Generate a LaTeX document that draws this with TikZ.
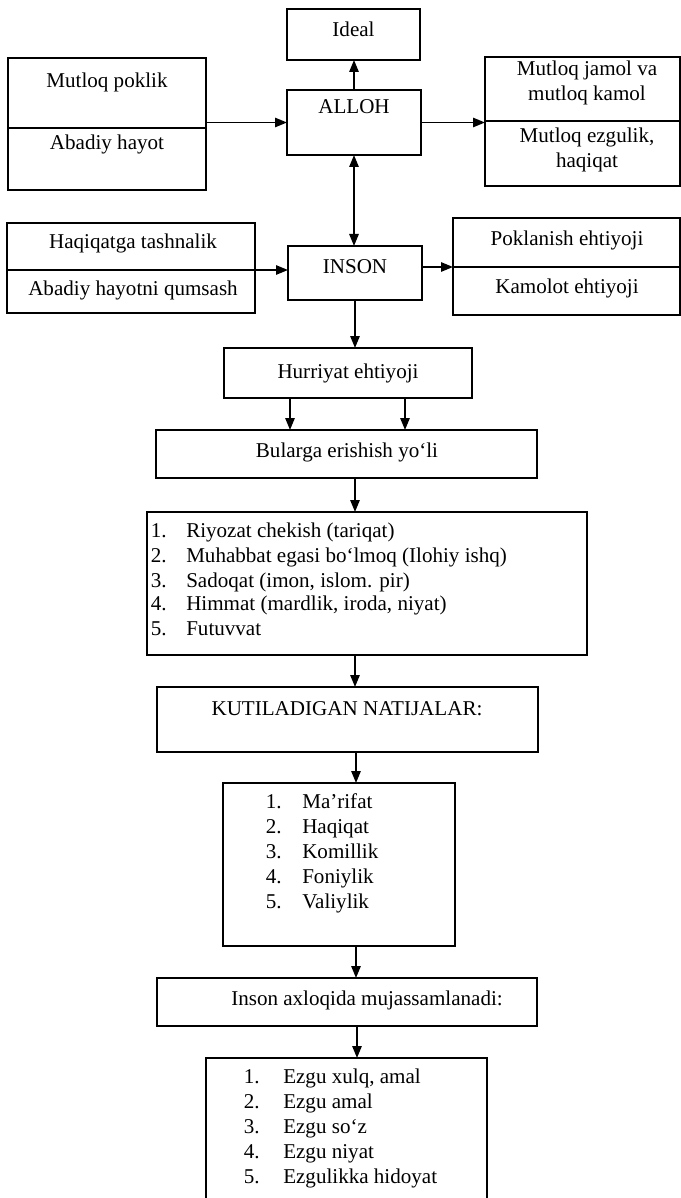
\documentclass[tikz,border=0pt]{standalone}
\usepackage{fontspec}
\setmainfont{Liberation Serif}
\usetikzlibrary{arrows.meta}
\begin{document}
\begin{tikzpicture}[x=0.75pt,y=-0.75pt,
  box/.style={draw, line width=1.35pt, inner sep=0pt, outer sep=0pt},
  sz/.style 2 args={minimum width=#1*0.75pt, minimum height=#2*0.75pt},
  txt/.style={inner sep=0pt, font=\fontsize{15.8}{18.75}\selectfont, text height=11pt, text depth=3.5pt},
  txtb/.style={inner sep=0pt, font=\fontsize{15.8}{18.75}\selectfont, align=center},
  arr/.style={line width=1.35pt, -{Triangle[length=9pt,width=7pt]}},
  darr/.style={line width=1.35pt, {Triangle[length=9pt,width=7pt]}-{Triangle[length=9pt,width=7pt]}}
]
\fill[white] (0,0) rectangle (681,1198);
\useasboundingbox (0,0) rectangle (681,1198);

% top row
\node[box,sz={133}{51}] (ideal) at (353.5,34.5) {};
\node[txt] (idealT) at (353.5,32) {Ideal};
\node[box,sz={134}{65}] (alloh) at (354,122.5) {};
\node[txt] (allohT) at (354,109) {ALLOH};

\node[box,sz={198}{70}] (l1a) at (107,93) {};
\node[box,sz={198}{62}] (l1b) at (107,159) {};
\node[txt] (l1aT) at (107,83) {Mutloq poklik};
\node[txt] (l1bT) at (107,145) {Abadiy hayot};

\node[box,sz={195}{64}] (r1a) at (582.5,89) {};
\node[box,sz={195}{65}] (r1b) at (582.5,153.5) {};
\node[txtb] (r1aT) at (587,83) {Mutloq jamol va\\mutloq kamol};
\node[txtb] (r1bT) at (587,149.5) {Mutloq ezgulik,\\haqiqat};

% second row
\node[box,sz={248}{47}] (l2a) at (131,246.5) {};
\node[box,sz={248}{43}] (l2b) at (131,291.5) {};
\node[txt] (l2aT) at (133,243) {Haqiqatga tashnalik};
\node[txt] (l2bT) at (133,290) {Abadiy hayotni qumsash};

\node[box,sz={134}{54}] (inson) at (355,273) {};
\node[txt] (insonT) at (355,268) {INSON};

\node[box,sz={227}{49}] (r2a) at (566.5,242.5) {};
\node[box,sz={227}{48}] (r2b) at (566.5,291) {};
\node[txt] (r2aT) at (567,240) {Poklanish ehtiyoji};
\node[txt] (r2bT) at (567,288) {Kamolot ehtiyoji};

% chain
\node[box,sz={248}{50}] (hurr) at (348,373) {};
\node[txt] (hurrT) at (348,373) {Hurriyat ehtiyoji};
\node[box,sz={381}{48}] (bul) at (346.5,454) {};
\node[txt] (bulT) at (347,452) {Bularga erishish yo‘li};
\node[box,sz={440}{143}] (list1) at (367,583.5) {};
\node[box,sz={381}{65}] (kut) at (347.5,719.5) {};
\node[txt] (kutT) at (347,710) {KUTILADIGAN NATIJALAR:};
\node[box,sz={232}{163}] (list2) at (339,864.5) {};
\node[box,sz={380}{48}] (insa) at (347,1002) {};
\node[txt] (insaT) at (367,1000) {Inson axloqida mujassamlanadi:};
\node[box,sz={281}{152}] (list3) at (346.5,1134) {};

% list contents
\foreach \n/\t/\y in {1/{Riyozat chekish (tariqat)}/532,
                      2/{Muhabbat egasi bo‘lmoq (Ilohiy ishq)}/557,
                      3/{Sadoqat (imon, islom. pir)}/582,
                      4/{Himmat (mardlik, iroda, niyat)}/605,
                      5/{Futuvvat}/630}{
  \node[txt,anchor=east] (la\n) at (167,\y) {\n.};
  \node[txt,anchor=west] (lb\n) at (186,\y) {\t};
}
\foreach \n/\t/\y in {1/{Ma’rifat}/803, 2/{Haqiqat}/828, 3/{Komillik}/853,
                      4/{Foniylik}/878, 5/{Valiylik}/903}{
  \node[txt,anchor=east] (ma\n) at (282,\y) {\n.};
  \node[txt,anchor=west] (mb\n) at (302,\y) {\t};
}
\foreach \n/\t/\y in {1/{Ezgu xulq, amal}/1078, 2/{Ezgu amal}/1103, 3/{Ezgu so‘z}/1128,
                      4/{Ezgu niyat}/1153, 5/{Ezgulikka hidoyat}/1178}{
  \node[txt,anchor=east] (na\n) at (260,\y) {\n.};
  \node[txt,anchor=west] (nb\n) at (283,\y) {\t};
}

% spine coordinates
\coordinate (sp1) at (355,0);
\coordinate (sp2) at (356,0);
\coordinate (sp3) at (357,0);

% connectors
\draw[arr] (alloh.north) -- (alloh.north |- ideal.south);
\draw[arr] (l1a.south east |- alloh.west) -- (alloh.west);
\draw[arr] (alloh.east) -- (alloh.east -| r1a.west);
\draw[darr] (alloh.south) -- (alloh.south |- inson.north);
\draw[arr] (l2a.south east) -- (l2a.south east -| inson.west);
\draw[arr] (inson.east |- r2a.south west) -- (r2a.south west);
\draw[arr] (inson.south) -- (inson.south |- hurr.north);
\draw[arr] ([xshift=-43.5pt]hurr.south) -- ([xshift=-43.5pt]hurr.south |- bul.north);
\draw[arr] ([xshift=42.75pt]hurr.south) -- ([xshift=42.75pt]hurr.south |- bul.north);
\draw[arr] (bul.south -| sp1) -- (list1.north -| sp1);
\draw[arr] (list1.south -| sp1) -- (kut.north -| sp1);
\draw[arr] (kut.south -| sp2) -- (list2.north -| sp2);
\draw[arr] (list2.south -| sp2) -- (insa.north -| sp2);
\draw[arr] (insa.south -| sp3) -- (list3.north -| sp3);
\end{tikzpicture}
\end{document}
